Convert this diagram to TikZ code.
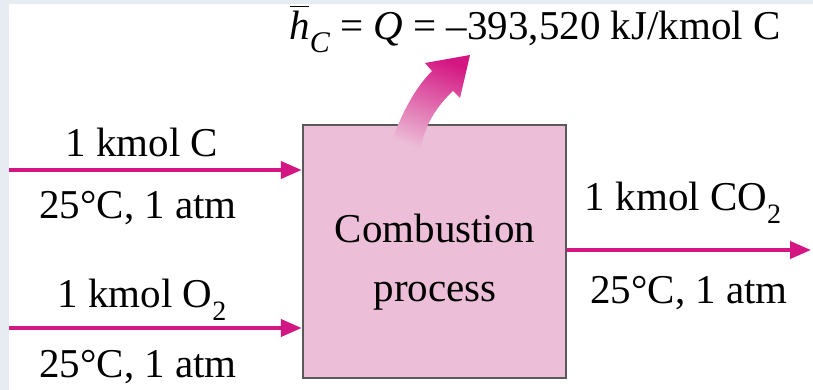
\documentclass[tikz,border=0pt]{standalone}
\usepackage{fontspec}
\setmainfont{Liberation Serif}
\usepackage{tikz}
\usetikzlibrary{arrows.meta}
\definecolor{flowmag}{RGB}{212,22,130}
\definecolor{procpink}{RGB}{236,190,216}
\definecolor{frameblue}{RGB}{230,236,241}
\newcommand{\chemsub}[1]{\raisebox{-0.32em}{\fontsize{28}{28}\selectfont #1}}
\newcommand{\molbar}[1]{\rlap{\hspace{0.02em}\raisebox{0.8em}{\rule{0.45em}{1.6pt}}}\textit{#1}}

\begin{document}
\begin{tikzpicture}[
    x=1pt, y=-1pt,
    flow/.style={-{Triangle[length=21pt,width=17pt]},draw=flowmag,line width=4pt},
    procbox/.style={rectangle,draw=black!65,fill=procpink,line width=2.5pt,
      minimum width=263pt,minimum height=253pt,inner sep=0pt},
    lbl/.style={inner sep=0pt,font=\fontsize{41}{49}\selectfont}
  ]
    \useasboundingbox (0,0) rectangle (813,390);
    \fill[frameblue] (0,0) rectangle (813,390);
    \fill[white] (9,4) rectangle (813,390);

    \node[procbox] (box) at (434.5,251.5) {};
    \node[lbl,align=center,font=\fontsize{41}{59}\selectfont] (boxtxt) at (435,262) {Combustion\\process};

    % fat heat arrow leaving the box
    \shade[top color=flowmag,bottom color=procpink,shading angle=-20]
      (388,152) .. controls (400,115) and (415,88) .. (432,71) -- (425,63) -- (470,55)
      -- (460,98) -- (453,91) .. controls (437,106) and (424,125) .. (420,152) -- cycle;
    \node[lbl] (heat) at (535,29) {\molbar{h}\raisebox{-0.3em}{\fontsize{30}{30}\selectfont\textit{C}} = \textit{Q} = –393,520 kJ/kmol C};

    % inlets
    \coordinate (inC) at (9,170);
    \coordinate (inO) at (9,328);
    \draw[flow] (inC) -- (box.west |- inC);
    \draw[flow] (inO) -- (box.west |- inO);
    \node[lbl] (cmol) at (142,142) {1 kmol C};
    \node[lbl] (cstate) at (138,208) {25°C, 1 atm};
    \node[lbl] (omol) at (142,300) {1 kmol O\chemsub{2}};
    \node[lbl] (ostate) at (138,367) {25°C, 1 atm};

    % outlet
    \coordinate (outP) at (811,250);
    \draw[flow] (box.east |- outP) -- (outP);
    \node[lbl] (pmol) at (683,203) {1 kmol CO\chemsub{2}};
    \node[lbl] (pstate) at (689,293) {25°C, 1 atm};
  \end{tikzpicture}
\end{document}
